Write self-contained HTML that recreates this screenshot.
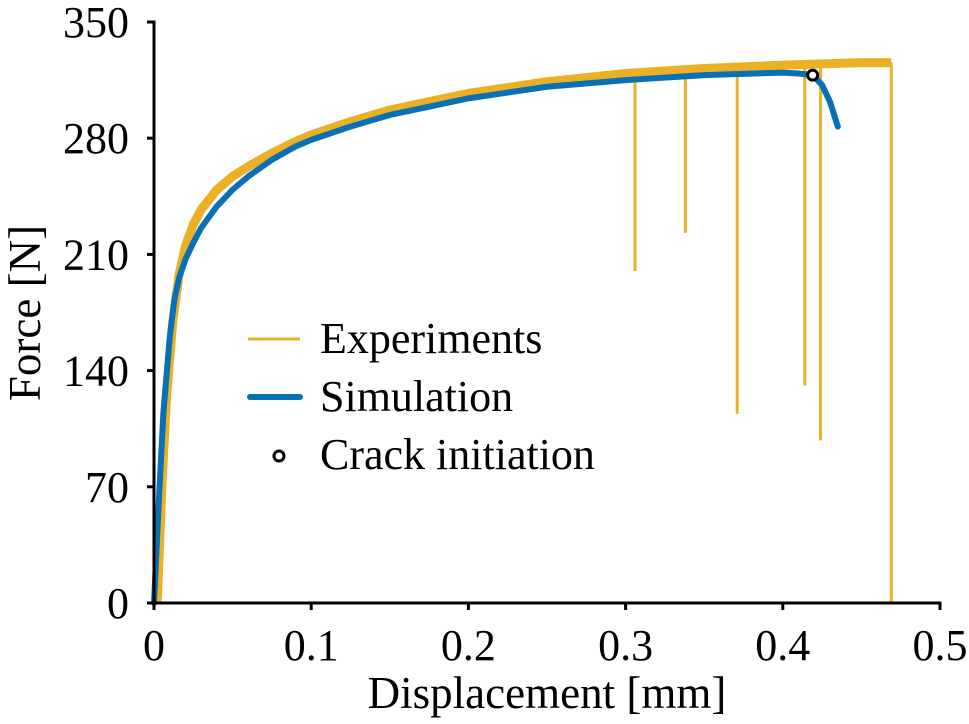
<!DOCTYPE html>
<html><head><meta charset="utf-8"><style>
body{margin:0;background:#fff}
svg{display:block;font-family:"Liberation Serif",serif}
</style></head><body>
<svg id="chart" width="969" height="724"></svg>
<script>
const simX=[0,0.003,0.006,0.01,0.013,0.016,0.02,0.025,0.03,0.04,0.05,0.06,0.075,0.09,0.1,0.125,0.15,0.175,0.2,0.25,0.3,0.35,0.4,0.41,0.419,0.425,0.43,0.435];
const simY=[0,60,115,160,183,196,207,217,226,239,249,257,267,275,279,287,294,299,304,311,315,318,319.5,319,318,312,302,287];
const expX=[0.002,0.005,0.008,0.012,0.016,0.02,0.025,0.03,0.04,0.05,0.06,0.075,0.09,0.1,0.125,0.15,0.175,0.2,0.25,0.3,0.35,0.4,0.45,0.469];
const expY=[0,70,125,170,198,215,228,237,249,257,263,271,278,282,290,297,302,307,314,319,322,324,325.5,325.5];
const dropX=[0.306,0.338,0.371,0.414,0.424,0.469];
const dropY=[200,223,114,131,98,0];
const crackX=[0.419];const crackY=[318];
const xTicks=[0,0.1,0.2,0.3,0.4,0.5];
const yTicks=[0,70,140,210,280,350];
const svg=document.getElementById('chart');
const NS='http://www.w3.org/2000/svg';
const X=v=>154+v*1572, Y=v=>603-v*1.66;
function el(t,a,p){const e=document.createElementNS(NS,t);for(const k in a)e.setAttribute(k,a[k]);(p||svg).appendChild(e);return e;}
function interp(xs,ys,x){for(let i=1;i<xs.length;i++)if(x<=xs[i]){const t=(x-xs[i-1])/(xs[i]-xs[i-1]);return ys[i-1]+t*(ys[i]-ys[i-1]);}return ys[ys.length-1];}
dropX.forEach((x,i)=>{const l=el('line',{x1:X(x),x2:X(x),y1:Y(interp(expX,expY,x)),y2:Y(dropY[i]),stroke:'#EBB126','stroke-width':3});

});
let e=el('polyline',{points:expX.map((x,i)=>X(x)+','+Y(expY[i])).join(' '),fill:'none',stroke:'#EBB126','stroke-width':9,'stroke-linejoin':'round'});


let s=el('polyline',{points:simX.map((x,i)=>X(x)+','+Y(simY[i])).join(' '),fill:'none',stroke:'#0A70B5','stroke-width':6,'stroke-linejoin':'round','stroke-linecap':'round'});


crackX.forEach((x,i)=>{const c=el('circle',{cx:X(x),cy:Y(crackY[i]),r:5,fill:'#fff',stroke:'#000','stroke-width':3});

});
let ax=el('path',{d:`M147 ${Y(350)}H154V603H940V610`,fill:'none',stroke:'#000','stroke-width':3});


xTicks.forEach(t=>{el('line',{x1:X(t),x2:X(t),y1:603,y2:610,stroke:'#000','stroke-width':3});
const tx=el('text',{x:X(t),y:660,'text-anchor':'middle','font-size':44});tx.textContent=t;

});
yTicks.forEach(t=>{el('line',{x1:147,x2:154,y1:Y(t),y2:Y(t),stroke:'#000','stroke-width':3});
const tx=el('text',{x:129,y:Y(t)+15,'text-anchor':'end','font-size':44});tx.textContent=t;

});
</script>
<div style="position:absolute;left:0;top:0;width:969px;height:724px;pointer-events:none">
<svg width="969" height="724" style="font-family:'Liberation Serif',serif">
<text x="547" y="708" text-anchor="middle" font-size="45">Displacement [mm]</text>
<text transform="translate(40,313) rotate(-90)" text-anchor="middle" font-size="45">Force [N]</text>
<g>
<line x1="248" x2="300" y1="339" y2="339" stroke="#EBB126" stroke-width="3"/>
<text x="320" y="353" font-size="44">Experiments</text>
<line x1="250" x2="300" y1="397" y2="397" stroke="#0A70B5" stroke-width="6" stroke-linecap="round"/>
<text x="320" y="411" font-size="44">Simulation</text>
<circle cx="279" cy="456" r="5" fill="#fff" stroke="#000" stroke-width="3"/>
<text x="320" y="469" font-size="44">Crack initiation</text>
</g>
</svg></div>
</body></html>
